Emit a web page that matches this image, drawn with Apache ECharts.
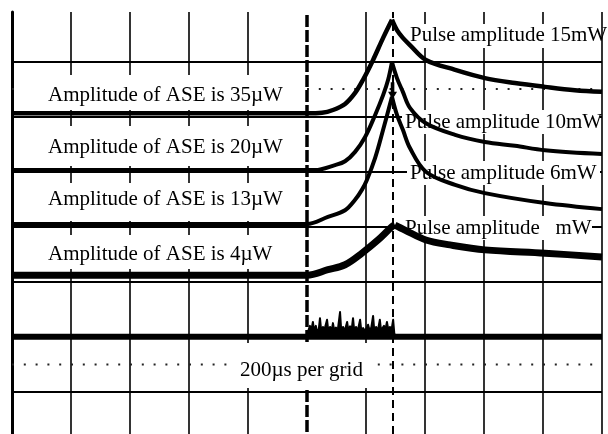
<!DOCTYPE html>
<html>
<head>
<meta charset="utf-8">
<script src="https://cdn.jsdelivr.net/npm/echarts@6/dist/echarts.min.js"></script>
<style>
  html, body { margin: 0; padding: 0; background: #fff; overflow: hidden; }
  /* the graticule continues a little below the visible window */
  #scope { width: 608px; height: 447px; }
</style>
</head>
<body>
<div id="scope"></div>
<script>
// Horizontal: time in microseconds, 200 µs per division, 10 divisions.
// Vertical: screen divisions counted from the bottom of the graticule.
const timeMin = 0;
const timeMax = 2000;
const timeStep = 200;
const divMin = 0;
const divMax = 7.9;
const divStep = 1;

// Trigger instant and pulse peak instant (µs)
const triggerTime = 1000;
const peakTime = 1290;

// Output traces for each ASE level, [time µs, divisions]
const ase35 = [[0, 6.06], [1000, 6.06], [1051, 6.07], [1088, 6.12], [1129, 6.23], [1163, 6.43],
  [1190, 6.67], [1224, 7.03], [1258, 7.43], [1288, 7.76], [1305, 7.57], [1325, 7.43],
  [1349, 7.30], [1403, 7.03], [1502, 6.85], [1603, 6.70], [1705, 6.61], [1807, 6.54],
  [1908, 6.48], [2000, 6.45]];
const ase20 = [[0, 5.03], [1027, 5.03], [1095, 5.12], [1129, 5.19], [1163, 5.36], [1197, 5.63],
  [1231, 6.03], [1258, 6.39], [1275, 6.67], [1288, 6.99], [1305, 6.70], [1325, 6.45],
  [1349, 6.16], [1403, 5.88], [1502, 5.67], [1603, 5.54], [1705, 5.47], [1807, 5.39],
  [2000, 5.32]];
const ase13 = [[0, 4.05], [1000, 4.05], [1071, 4.18], [1129, 4.30], [1163, 4.49], [1186, 4.67],
  [1203, 4.85], [1231, 5.25], [1258, 5.76], [1288, 6.36], [1305, 6.03], [1325, 5.76],
  [1349, 5.43], [1403, 5.00], [1502, 4.76], [1603, 4.61], [1807, 4.43], [2000, 4.32]];
const ase4 = [[0, 3.12], [1000, 3.12], [1071, 3.22], [1129, 3.31], [1186, 3.52], [1241, 3.76],
  [1288, 4.00], [1298, 4.03], [1332, 3.94], [1403, 3.76], [1485, 3.67], [1603, 3.58],
  [1807, 3.52], [2000, 3.45]];

// Input pulse trace: flat level plus the noise burst during the gate
const inputLevel = [[0, 2.00], [2000, 2.00]];
const inputBurst = [[1000, 2.02], [1005, 2.12], [1010, 2.20], [1014, 2.10], [1020, 2.27], [1024, 2.11],
  [1030, 2.20], [1034, 2.10], [1040, 2.14], [1044, 2.34], [1048, 2.12], [1054, 2.18], [1058, 2.11],
  [1064, 2.23], [1068, 2.31], [1072, 2.12], [1078, 2.18], [1083, 2.11], [1088, 2.25], [1092, 2.12],
  [1098, 2.17], [1104, 2.11], [1112, 2.45], [1116, 2.12], [1122, 2.18], [1128, 2.11], [1136, 2.27],
  [1140, 2.12], [1146, 2.19], [1151, 2.11], [1156, 2.34], [1160, 2.12], [1166, 2.18], [1172, 2.11],
  [1180, 2.31], [1184, 2.12], [1190, 2.16], [1197, 2.11], [1207, 2.22], [1212, 2.12], [1218, 2.17],
  [1224, 2.38], [1228, 2.12], [1234, 2.18], [1240, 2.11], [1247, 2.31], [1251, 2.12], [1261, 2.20],
  [1265, 2.11], [1271, 2.27], [1276, 2.12], [1281, 2.18], [1286, 2.11], [1292, 2.31], [1296, 2.06],
  [1298, 2.02]];

// Dotted sub-division rows of the graticule
const dottedRows = [6.5, 1.5];
// Trigger arrow level
const arrowLevel = 6.47;

const aseLabels = ['Amplitude of ASE is 35µW', 'Amplitude of ASE is 20µW',
  'Amplitude of ASE is 13µW', 'Amplitude of ASE is 4µW'];
const pulseLabels = ['Pulse amplitude 15mW', 'Pulse amplitude 10mW',
  'Pulse amplitude 6mW', 'Pulse amplitude   mW'];
const timebaseLabel = '200µs per grid';

const chart = echarts.init(document.getElementById('scope'), null, { renderer: 'canvas' });

const FONT = '21px "Liberation Serif", "Times New Roman", serif';

function whiteBox(x, y, w, h, z) {
  return { type: 'rect', silent: true, z: z, shape: { x: x, y: y, width: w, height: h },
    style: { fill: '#fff' } };
}
function caption(text, x, y, z) {
  return { type: 'text', silent: true, z: z, x: x, y: y,
    style: { text: text, font: FONT, fill: '#000', textVerticalAlign: 'middle', verticalAlign: 'middle' } };
}

// vertical grid colours: the line at the trigger instant is drawn dashed separately
const vColors = [];
for (let t = timeMin; t <= timeMax; t += timeStep) vColors.push(t === triggerTime ? 'rgba(0,0,0,0)' : '#000');

function trace(data, width, smooth) {
  return { type: 'line', data: data, showSymbol: false, symbol: 'none', z: 3, silent: true,
    smooth: smooth || false,
    lineStyle: { color: '#000', width: width, join: 'round', cap: 'butt' } };
}

// Each pulse response is drawn as a smooth rise and a smooth decay meeting in a sharp peak
function pulseTrace(data, width) {
  let peak = 0;
  data.forEach(function (p, i) { if (p[1] > data[peak][1]) peak = i; });
  return [trace(data.slice(0, peak + 1), width, 0.35), trace(data.slice(peak), width, 0.35)];
}

const leftCaptionY = [95, 147, 199, 254];
const leftBoxes = [[75, 35], [126, 40], [183, 38], [235, 34]];
const pulseCaption = [[410, 35], [405, 122], [410, 173], [405, 228]];
const pulseBoxes = [[407, 24, 193, 24], [402, 110, 198, 24], [407, 161, 193, 24], [402, 216, 190, 24]];

const graphics = [];
leftBoxes.forEach(function (b) { graphics.push(whiteBox(14, b[0], 289, b[1], 1)); });
pulseBoxes.forEach(function (b) { graphics.push(whiteBox(b[0], b[1], b[2], b[3], 1)); });
graphics.push(whiteBox(236, 343, 134, 45, 10));
aseLabels.forEach(function (s, i) { graphics.push(caption(s, 48, leftCaptionY[i], 2)); });
pulseLabels.forEach(function (s, i) { graphics.push(caption(s, pulseCaption[i][0], pulseCaption[i][1], 2)); });
graphics.push(caption(timebaseLabel, 240, 370, 11));

const option = {
  animation: false,
  backgroundColor: '#fff',
  grid: { left: 12, top: 12, width: 590, height: 435, containLabel: false },
  xAxis: {
    type: 'value', min: timeMin, max: timeMax, interval: timeStep,
    axisLine: { show: false }, axisTick: { show: false }, axisLabel: { show: false },
    splitLine: { show: true, lineStyle: { color: vColors, width: 1.6 } }
  },
  yAxis: {
    type: 'value', min: divMin, max: divMax, interval: divStep,
    axisLine: { show: true, lineStyle: { color: '#000', width: 3 } },
    axisTick: { show: false }, axisLabel: { show: false },
    splitLine: { show: true, showMaxLine: false, lineStyle: { color: '#000', width: 2 } }
  },
  graphic: graphics,
  series: [
    // dotted sub-division rows
    ...dottedRows.map(function (lv) {
      return { type: 'line', data: [[timeMin, lv], [timeMax, lv]], showSymbol: false, symbol: 'none',
        z: 0, silent: true, lineStyle: { color: '#222', width: 2, type: [2, 9.8] } };
    }),
    ...pulseTrace(ase35, 4.5),
    ...pulseTrace(ase20, 4),
    ...pulseTrace(ase13, 4),
    ...pulseTrace(ase4, 7),
    Object.assign(trace(inputLevel, 6), {
      markLine: {
        silent: true, symbol: 'none', z: 5, label: { show: false },
        data: [
          { xAxis: triggerTime, lineStyle: { color: '#000', width: 3.5, type: [12, 3] } },
          { xAxis: peakTime, lineStyle: { color: '#000', width: 2, type: [8, 5] } }
        ]
      },
      markPoint: {
        silent: true,
        symbol: 'path://M3,0 H7 V10 H10 L5,18 L0,10 H3 Z',
        symbolSize: [9, 17],
        itemStyle: { color: '#000' },
        label: { show: false },
        data: [{ coord: [peakTime, arrowLevel] }]
      }
    }),
    Object.assign(trace(inputBurst, 2), { areaStyle: { color: '#000', opacity: 1, origin: 2.0 } })
  ]
};

chart.setOption(option);
</script>
</body>
</html>
